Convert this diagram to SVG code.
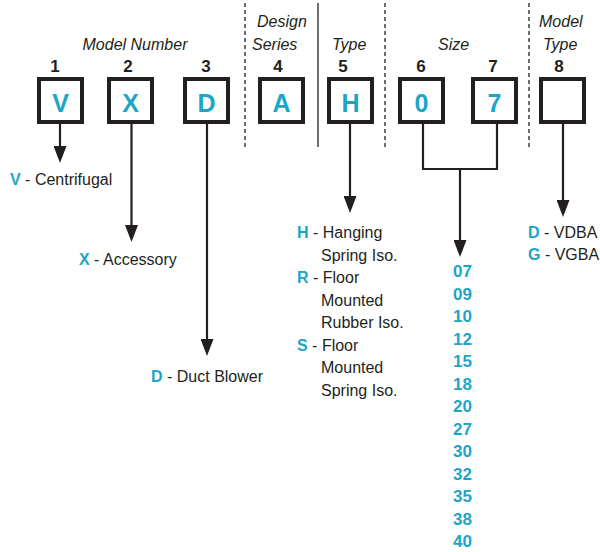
<svg xmlns="http://www.w3.org/2000/svg" width="600" height="552" viewBox="0 0 600 552">
<defs>
<marker id="ah" viewBox="0 0 17 13" markerWidth="17" markerHeight="13" refX="7" refY="6.5" orient="auto" markerUnits="userSpaceOnUse">
<path d="M0,0 L17,6.5 L0,13 Z" fill="#231f20"/>
</marker>
</defs>
<style>
text{font-family:"Liberation Sans",Arial,sans-serif;fill:#231f20}
.hd{font-size:16px;font-style:italic}
.num{font-size:17px;font-weight:bold;text-anchor:middle}
.box{fill:#fff;stroke:#231f20;stroke-width:4}
.let{font-size:25px;font-weight:bold;fill:#1ba6c8;text-anchor:middle}
.lbl{font-size:16px}
.c{fill:#1ba6c8;font-weight:bold}
.sz{font-size:17px;font-weight:bold;fill:#1ba6c8}
.conn{fill:none;stroke:#231f20;stroke-width:2.2}
.dash{stroke:#231f20;stroke-width:1.3;stroke-dasharray:4 3}
.solid{stroke:#231f20;stroke-width:1.3}
</style>
<rect width="600" height="552" fill="#fff"/>
<g id="dividers">
<line class="dash" x1="245" y1="3" x2="245" y2="147"/>
<line class="solid" x1="318" y1="3" x2="318" y2="147"/>
<line class="dash" x1="385" y1="3" x2="385" y2="147"/>
<line class="dash" x1="529" y1="3" x2="529" y2="147"/>
</g>
<g id="headings">
<text class="hd" x="135" y="50" text-anchor="middle">Model Number</text>
<text class="hd" x="257" y="27">Design</text>
<text class="hd" x="252" y="50">Series</text>
<text class="hd" x="332" y="50">Type</text>
<text class="hd" x="438" y="50">Size</text>
<text class="hd" x="539" y="27">Model</text>
<text class="hd" x="543" y="50">Type</text>
</g>
<g id="connectors">
<path class="conn" d="M60,124 V153" marker-end="url(#ah)"/>
<path class="conn" d="M131.5,124 V232" marker-end="url(#ah)"/>
<path class="conn" d="M207,124 V346" marker-end="url(#ah)"/>
<path class="conn" d="M350,124 V203" marker-end="url(#ah)"/>
<path class="conn" d="M423,124 V169 H497 V124"/>
<path class="conn" d="M460,169 V247" marker-end="url(#ah)"/>
<path class="conn" d="M563,124 V207" marker-end="url(#ah)"/>
</g>
<g id="node1"><text class="num" x="55" y="72">1</text><rect class="box" x="39" y="79" width="43" height="43"/><text class="let" x="60.5" y="112">V</text></g>
<g id="node2"><text class="num" x="128" y="72">2</text><rect class="box" x="109" y="79" width="43" height="43"/><text class="let" x="130.5" y="112">X</text></g>
<g id="node3"><text class="num" x="206" y="72">3</text><rect class="box" x="185" y="79" width="43" height="43"/><text class="let" x="206.5" y="112">D</text></g>
<g id="node4"><text class="num" x="278" y="72">4</text><rect class="box" x="260" y="79" width="43" height="43"/><text class="let" x="281.5" y="112">A</text></g>
<g id="node5"><text class="num" x="343" y="72">5</text><rect class="box" x="329" y="79" width="43" height="43"/><text class="let" x="350.5" y="112">H</text></g>
<g id="node6"><text class="num" x="421" y="72">6</text><rect class="box" x="400" y="79" width="43" height="43"/><text class="let" x="421.5" y="112">0</text></g>
<g id="node7"><text class="num" x="493" y="72">7</text><rect class="box" x="473" y="79" width="43" height="43"/><text class="let" x="494.5" y="112">7</text></g>
<g id="node8"><text class="num" x="559" y="72">8</text><rect class="box" x="541" y="79" width="43" height="43"/></g>
<g id="opt-model">
<text class="lbl" x="10" y="185"><tspan class="c">V</tspan> - Centrifugal</text>
<text class="lbl" x="79" y="265"><tspan class="c">X</tspan> - Accessory</text>
<text class="lbl" x="151" y="382"><tspan class="c">D</tspan> - Duct Blower</text>
</g>
<g id="opt-type">
<text class="lbl" x="297" y="238"><tspan class="c">H</tspan> - Hanging</text>
<text class="lbl" x="321" y="260.5">Spring Iso.</text>
<text class="lbl" x="297" y="283"><tspan class="c">R</tspan> - Floor</text>
<text class="lbl" x="321" y="305.5">Mounted</text>
<text class="lbl" x="321" y="328">Rubber Iso.</text>
<text class="lbl" x="297" y="350.5"><tspan class="c">S</tspan> - Floor</text>
<text class="lbl" x="321" y="373">Mounted</text>
<text class="lbl" x="321" y="395.5">Spring Iso.</text>
</g>
<g id="opt-size">
<text class="sz" x="453" y="277">07</text>
<text class="sz" x="453" y="299.5">09</text>
<text class="sz" x="453" y="322">10</text>
<text class="sz" x="453" y="344.5">12</text>
<text class="sz" x="453" y="367">15</text>
<text class="sz" x="453" y="389.5">18</text>
<text class="sz" x="453" y="412">20</text>
<text class="sz" x="453" y="434.5">27</text>
<text class="sz" x="453" y="457">30</text>
<text class="sz" x="453" y="479.5">32</text>
<text class="sz" x="453" y="502">35</text>
<text class="sz" x="453" y="524.5">38</text>
<text class="sz" x="453" y="547">40</text>
</g>
<g id="opt-modeltype">
<text class="lbl" x="528" y="238"><tspan class="c">D</tspan> - VDBA</text>
<text class="lbl" x="528" y="260"><tspan class="c">G</tspan> - VGBA</text>
</g>
</svg>
